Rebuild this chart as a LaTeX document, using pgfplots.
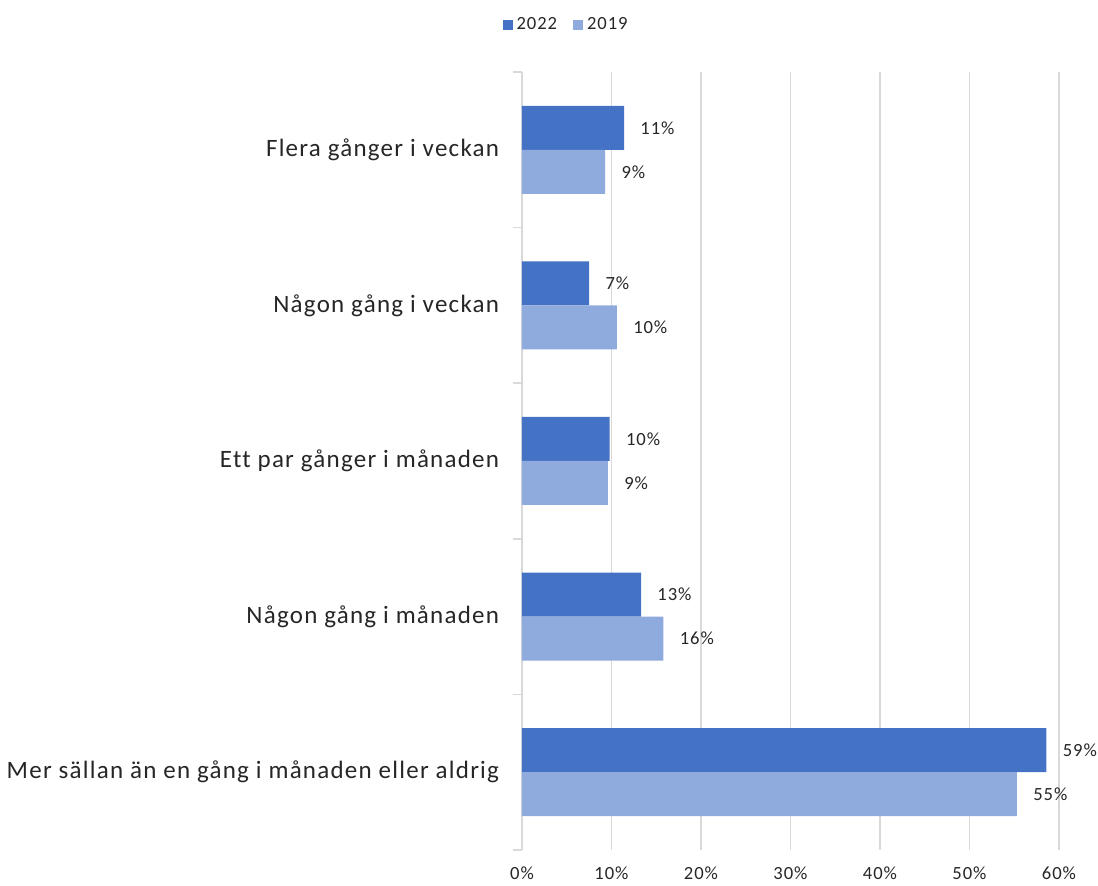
\documentclass[border=0pt]{standalone}
\usepackage{pgfplots}
\pgfplotsset{compat=1.18}
\usepackage{pgfplotstable}
\usepackage{fontspec}
\setmainfont{Carlito}[LetterSpace=5, Ligatures={NoCommon}]
\definecolor{c22}{HTML}{4472C4}
\definecolor{c19}{HTML}{8FAADC}
\definecolor{gridc}{HTML}{D9D9D9}
\definecolor{txt}{HTML}{262626}

% pos = category (0 = top), val = percent, lab = printed label
\pgfplotstableread{
pos val lab
0 11.4 11
1 7.5 7
2 9.8 10
3 13.3 13
4 58.6 59
}\tabA
\pgfplotstableread{
pos val lab
0 9.3 9
1 10.6 10
2 9.6 9
3 15.8 16
4 55.3 55
}\tabB

\begin{document}
\begin{tikzpicture}[x=1pt,y=1pt]
\path[use as bounding box] (0,0) rectangle (549,443);
\begin{axis}[
    at={(261pt,18pt)}, anchor=south west,
    scale only axis, width=268.5pt, height=389pt,
    xbar, bar width=22pt, clip=false,
    xmin=0, xmax=60,
    ymin=-0.5, ymax=4.5, y dir=reverse,
    axis lines*=left,
    x axis line style={draw=none},
    y axis line style={gridc, line width=0.75pt},
    xtick={0,10,...,60},
    xticklabel={\pgfmathprintnumber{\tick}\%},
    /pgf/number format/assume math mode=true,
    major x tick style={draw=none},
    xticklabel style={font=\fontsize{9.3}{11}\selectfont, text=txt, anchor=north, inner sep=0pt, yshift=-4pt},
    xmajorgrids,
    major x grid style={gridc, line width=0.75pt},
    ytick={0,1,2,3,4},
    yticklabels={Flera gånger i veckan, Någon gång i veckan, Ett par gånger i månaden, Någon gång i månaden, Mer sällan än en gång i månaden eller aldrig},
    major y tick style={draw=none},
    yticklabel style={font=\fontsize{12.5}{15}\selectfont, text=txt, anchor=east, inner sep=0pt, xshift=-7pt},
    minor ytick={-0.5,0.5,1.5,2.5,3.5,4.5},
    minor y tick style={gridc, line width=0.75pt},
    minor tick length=4.5pt, tick align=outside,
    point meta=explicit symbolic,
    nodes near coords={\pgfplotspointmeta\%},
    nodes near coords style={anchor=west, inner sep=0pt, xshift=8pt, font=\fontsize{9.3}{11}\selectfont, text=txt},
    legend style={at={(0.084,1.06)}, anchor=center, draw=none, fill=none,
        legend columns=2, font=\fontsize{9.3}{11}\selectfont, text=txt,
        /tikz/every even column/.append style={column sep=6pt}},
    legend image code/.code={\fill[#1] (0pt,-2.5pt) rectangle (5pt,2.5pt);},
]
\addplot[fill=c22, draw=none, bar shift=11pt] table[x=val, y=pos, meta=lab] {\tabA};
\addlegendentry{2022}
\addplot[fill=c19, draw=none, bar shift=-11pt] table[x=val, y=pos, meta=lab] {\tabB};
\addlegendentry{2019}
\end{axis}
\end{tikzpicture}
\end{document}
